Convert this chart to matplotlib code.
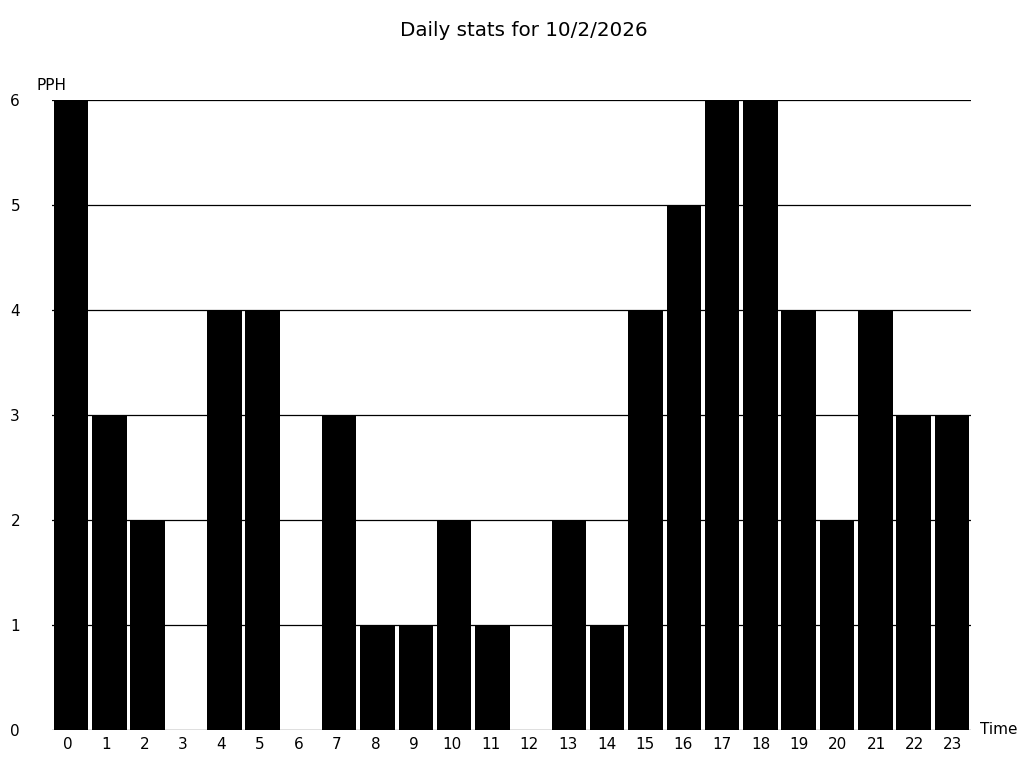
import matplotlib
matplotlib.use("Agg")
import matplotlib.pyplot as plt

# Data
hours = list(range(24))
pph = [6, 3, 2, 0, 4, 4, 0, 3, 1, 1, 2, 1, 0, 2, 1, 4, 5, 6, 6, 4, 2, 4, 3, 3]
yticks = [0, 1, 2, 3, 4, 5, 6]

fig = plt.figure(figsize=(10.24, 7.68), dpi=100)
ax = fig.add_axes([52/1024, 1 - 730/768, (971 - 52)/1024, (730 - 100)/768])

for y in yticks:
    ax.axhline(y, color='black', linewidth=0.9, zorder=1)

ax.bar(hours, pph, width=0.9, color='black', zorder=2)

ax.set_xlim(-0.5, 23.5)
ax.set_ylim(0, 6)
# labels sit a little left of the bar centres in the original
ax.set_xticks([h - 0.1 + 0.0057 * h for h in hours])
ax.set_xticklabels([str(h) for h in hours], fontsize=11)
ax.set_yticks(yticks)
ax.set_yticklabels([str(y) for y in yticks], fontsize=11)
ax.tick_params(axis='x', length=0, pad=5)
ax.tick_params(axis='y', length=0, pad=23)
for s in ax.spines.values():
    s.set_visible(False)

fig.text(524/1024, 1 - 30/768, 'Daily stats for 10/2/2026', ha='center', va='center', fontsize=14.3)
fig.text(37/1024, 1 - 85/768, 'PPH', ha='left', va='center', fontsize=11)
fig.text(980/1024, 1 - 730/768, 'Time', ha='left', va='center', fontsize=11)

fig.savefig('out.png', dpi=100)
